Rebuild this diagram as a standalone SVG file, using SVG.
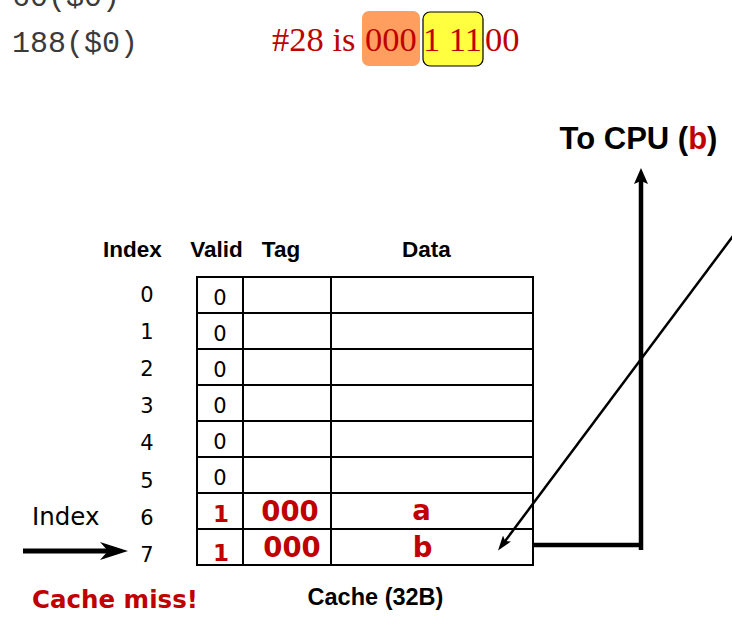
<svg xmlns="http://www.w3.org/2000/svg" width="732" height="625" viewBox="0 0 732 625">
<style>
.mono{font-family:"Liberation Mono","Courier New",monospace;font-size:30px;fill:#3a3a3a}
.addr{font-family:"Liberation Serif","Times New Roman",serif;font-size:34.5px;fill:#c00000}
.hdr{font-family:"Liberation Sans",Arial,sans-serif;font-weight:bold;font-size:22.5px;fill:#000;text-anchor:middle}
.idx{font-family:"DejaVu Sans",Tahoma,sans-serif;font-size:21px;fill:#000;text-anchor:middle}
.cell{font-family:"DejaVu Sans",Tahoma,sans-serif;font-size:21px;fill:#000;text-anchor:middle}
.red{font-family:"DejaVu Sans",Tahoma,sans-serif;font-weight:bold;fill:#c00000;text-anchor:middle}
.grid{fill:none;stroke:#000;stroke-width:2}
.conn{fill:none;stroke:#000}
</style>
<defs>
<marker id="headBig" viewBox="0 0 28 18" refX="8" refY="9" markerWidth="28" markerHeight="18" orient="auto" markerUnits="userSpaceOnUse"><path d="M0,0 L28,9 L0,18 L8,9 Z" fill="#000"/></marker>
<marker id="headUp" viewBox="0 0 16 14" refX="3" refY="7" markerWidth="16" markerHeight="14" orient="auto" markerUnits="userSpaceOnUse"><path d="M0,0 L16,7 L0,14 L3,7 Z" fill="#000"/></marker>
<marker id="headDiag" viewBox="0 0 15 10" refX="3" refY="5" markerWidth="15" markerHeight="10" orient="auto" markerUnits="userSpaceOnUse"><path d="M0,0 L15,5 L0,10 L3,5 Z" fill="#000"/></marker>
</defs>
<rect width="732" height="625" fill="#fff"/>

<g id="code">
<text class="mono" x="12" y="6">60($0)</text>
<text class="mono" x="12" y="52">188($0)</text>
</g>

<g id="address">
<rect x="362" y="11" width="58" height="55" rx="7" fill="#ff9e5e"/>
<rect x="423" y="12" width="60" height="54" rx="7" fill="#ffff40" stroke="#000" stroke-width="1.2"/>
<text class="addr" x="272" y="51">#28 is</text>
<text class="addr" x="365" y="51">000</text>
<text class="addr" x="423" y="51" textLength="59">1 11</text>
<text class="addr" x="485" y="51">00</text>
</g>

<g id="cpu">
<text x="638.5" y="149" font-family="Liberation Sans,Arial,sans-serif" font-weight="bold" font-size="31" text-anchor="middle" fill="#000">To CPU (<tspan fill="#c00000">b</tspan>)</text>
</g>

<g id="headers">
<text class="hdr" x="132.5" y="257">Index</text>
<text class="hdr" x="216.5" y="257">Valid</text>
<text class="hdr" x="281" y="257">Tag</text>
<text class="hdr" x="426.5" y="257">Data</text>
</g>

<g id="index-labels">
<text class="idx" x="147" y="301.5">0</text>
<text class="idx" x="147" y="338.7">1</text>
<text class="idx" x="147" y="375.9">2</text>
<text class="idx" x="147" y="413.1">3</text>
<text class="idx" x="147" y="450.3">4</text>
<text class="idx" x="147" y="487.5">5</text>
<text class="idx" x="147" y="524.7">6</text>
<text class="idx" x="147" y="561.9">7</text>
</g>

<g id="cache">
<rect class="grid" x="197" y="277" width="336" height="288"/>
<path class="grid" d="M243,277V565M331,277V565M197,313H533M197,349H533M197,385H533M197,421H533M197,457H533M197,493H533M197,529H533"/>
<text class="cell" x="220" y="305">0</text>
<text class="cell" x="220" y="341">0</text>
<text class="cell" x="220" y="377">0</text>
<text class="cell" x="220" y="413">0</text>
<text class="cell" x="220" y="449">0</text>
<text class="cell" x="220" y="485">0</text>
<text class="red" x="221" y="522" font-size="23">1</text>
<text class="red" x="290" y="521" font-size="27.5">000</text>
<text class="red" x="421.5" y="520" font-size="27.5">a</text>
<text class="red" x="221" y="561" font-size="23">1</text>
<text class="red" x="292" y="557" font-size="27.5">000</text>
<text class="red" x="422.5" y="557" font-size="27.5">b</text>
</g>

<g id="index-pointer">
<text x="32" y="525" font-family="DejaVu Sans,Tahoma,sans-serif" font-size="24.5" fill="#000">Index</text>
</g>

<g id="captions">
<text x="32" y="608" font-family="DejaVu Sans,Verdana,sans-serif" font-weight="bold" font-size="24.5" fill="#c00000">Cache miss!</text>
<text x="375.5" y="605" font-family="Liberation Sans,Arial,sans-serif" font-weight="bold" font-size="23.5" text-anchor="middle" fill="#000">Cache (32B)</text>
</g>

<g id="connectors">
<line class="conn" x1="23" y1="551" x2="108" y2="551" stroke-width="5" marker-end="url(#headBig)"/>
<path class="conn" d="M533,545H643" stroke-width="4.5"/>
<line class="conn" x1="641" y1="550" x2="641" y2="181" stroke-width="4.5" marker-end="url(#headUp)"/>
<line class="conn" x1="733" y1="236" x2="505.2" y2="540.9" stroke-width="2.5" marker-end="url(#headDiag)"/>
</g>
</svg>
